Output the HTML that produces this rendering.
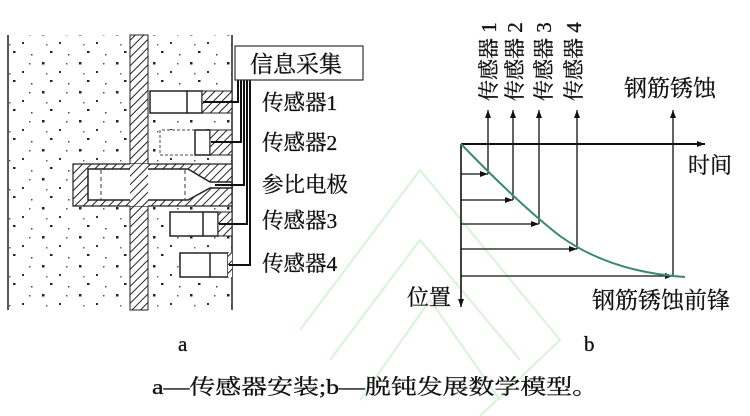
<!DOCTYPE html>
<html><head><meta charset="utf-8"><style>
html,body{margin:0;padding:0;background:#fff;width:750px;height:416px;overflow:hidden}
svg{display:block}
text{font-family:"Liberation Serif","Noto Serif CJK SC","Noto Sans CJK SC",serif;fill:#111;stroke:#111;stroke-width:0.3}
</style></head><body>
<svg width="750" height="416" viewBox="0 0 750 416" xmlns="http://www.w3.org/2000/svg">
<defs>
<pattern id="h" width="6" height="6" patternUnits="userSpaceOnUse" patternTransform="rotate(45)">
<rect width="6" height="6" fill="#fff"/><line x1="0" y1="0" x2="0" y2="6" stroke="#222" stroke-width="2"/></pattern>
<pattern id="d" width="37" height="29" patternUnits="userSpaceOnUse">
<rect x="5" y="4" width="2.5" height="2.5" fill="#222"/><rect x="22" y="13" width="2" height="2" fill="#333"/>
<rect x="13" y="22" width="2.5" height="2" fill="#222"/><rect x="31" y="25" width="1.5" height="1.5" fill="#444"/>
<rect x="29" y="5" width="1.5" height="1.5" fill="#555"/><rect x="9" y="15" width="1.5" height="1.5" fill="#666"/></pattern>
<marker id="a" markerWidth="8" markerHeight="6" refX="8" refY="3" orient="auto" markerUnits="userSpaceOnUse"><path d="M0,0L8,3L0,6z" fill="#111"/></marker>
</defs>
<g stroke="#d8f4d8" stroke-width="2" fill="none">
<path d="M300,330 L420,170 L560,340 L480,416"/><path d="M330,360 L420,240 L520,360"/><path d="M360,400 L430,300 L500,400"/>
</g>
<rect x="9" y="35" width="223" height="275" fill="url(#d)"/>
<line x1="8" y1="35" x2="8" y2="310" stroke="#222" stroke-width="1.5"/>
<rect x="130" y="35" width="18" height="275" fill="url(#h)" stroke="#222" stroke-width="1"/>
<line x1="232" y1="35" x2="232" y2="310" stroke="#222" stroke-width="1.5"/>
<path d="M187,91 H150 V113 H187" fill="#fff" stroke="#222" stroke-width="1.5"/>
<rect x="187" y="91" width="15" height="22" fill="#fff" stroke="#222" stroke-width="1.5"/>
<rect x="202" y="91" width="30" height="22" fill="url(#h)" stroke="#222" stroke-width="1"/>
<path d="M195,130 H160 V155 H195" fill="#fff" stroke="#444" stroke-width="1" stroke-dasharray="3,2"/>
<rect x="195" y="130" width="15" height="25" fill="#fff" stroke="#222" stroke-width="1.5"/>
<rect x="210" y="130" width="22" height="25" fill="url(#h)" stroke="#222" stroke-width="1"/>
<path d="M73,164 H232 V206 H73 Z" fill="url(#h)" stroke="#222" stroke-width="1.2"/>
<path d="M88,169 H188 L210,182 H232 V188 H210 L188,200 H88 Z" fill="#fff" stroke="#222" stroke-width="1.5"/>
<rect x="130" y="164" width="18" height="42" fill="url(#h)"/>
<line x1="101" y1="170" x2="101" y2="200" stroke="#333" stroke-dasharray="4,3"/>
<line x1="185" y1="170" x2="185" y2="200" stroke="#333" stroke-dasharray="4,3"/>
<path d="M203,212 H170 V236 H203" fill="#fff" stroke="#222" stroke-width="1.5"/>
<rect x="203" y="212" width="15" height="24" fill="#fff" stroke="#222" stroke-width="1.5"/>
<rect x="218" y="212" width="14" height="24" fill="url(#h)" stroke="#222" stroke-width="1"/>
<path d="M210,253 H180 V277 H210" fill="#fff" stroke="#222" stroke-width="1.5"/>
<rect x="210" y="253" width="18" height="24" fill="#fff" stroke="#222" stroke-width="1.5"/>
<rect x="228" y="253" width="4" height="24" fill="url(#h)"/>
<g stroke="#111" stroke-width="2" fill="none">
<path d="M203,102 H238 V80"/><path d="M211,142 H241 V80"/><path d="M215,185 H244 V80"/>
<path d="M219,224 H247 V80"/><path d="M229,265 H250 V80"/>
</g>
<rect x="235" y="46" width="128" height="34" fill="#fff" stroke="#333" stroke-width="1.2"/>
<text x="250" y="72" font-size="23">信息采集</text>
<g font-size="21.5">
<text x="262" y="110">传感器1</text><text x="262" y="150">传感器2</text>
<text x="262" y="192">参比电极</text><text x="262" y="228">传感器3</text>
<text x="262" y="271">传感器4</text></g>
<text x="178" y="351" font-size="21">a</text>
<text x="584" y="351" font-size="21">b</text>
<g stroke="#111" stroke-width="1.3" fill="none">
<line x1="461" y1="144" x2="705" y2="144" stroke-width="2" marker-end="url(#a)"/>
<line x1="461" y1="144" x2="461" y2="307" stroke-width="1.6" marker-end="url(#a)"/>
<line x1="488" y1="174" x2="488" y2="110" marker-end="url(#a)"/>
<line x1="513" y1="200" x2="513" y2="110" marker-end="url(#a)"/>
<line x1="539" y1="224" x2="539" y2="110" marker-end="url(#a)"/>
<line x1="577" y1="249" x2="577" y2="110" marker-end="url(#a)"/>
<line x1="673" y1="276" x2="673" y2="110" marker-end="url(#a)"/>
<line x1="461" y1="174" x2="488" y2="174" marker-end="url(#a)"/>
<line x1="461" y1="200" x2="513" y2="200" marker-end="url(#a)"/>
<line x1="461" y1="224" x2="539" y2="224" marker-end="url(#a)"/>
<line x1="461" y1="249" x2="577" y2="249" marker-end="url(#a)"/>
<line x1="461" y1="276" x2="673" y2="276" marker-end="url(#a)"/>
</g>
<path d="M461,144 Q520,205 560,236 Q610,272 685,277" stroke="#3a8a6a" stroke-width="2" fill="none"/>
<g font-size="21">
<text transform="translate(496,101) rotate(-90)">传感器 1</text>
<text transform="translate(522,101) rotate(-90)">传感器 2</text>
<text transform="translate(551,101) rotate(-90)">传感器 3</text>
<text transform="translate(581,101) rotate(-90)">传感器 4</text>
</g>
<text x="624" y="96" font-size="23">钢筋锈蚀</text>
<text x="688" y="173" font-size="22">时间</text>
<text x="407" y="305" font-size="22">位置</text>
<text x="592" y="308" font-size="23">钢筋锈蚀前锋</text>
<text x="152" y="394" font-size="21" textLength="446" lengthAdjust="spacingAndGlyphs">a—传感器安装;b—脱钝发展数学模型。</text>
</svg>
</body></html>
